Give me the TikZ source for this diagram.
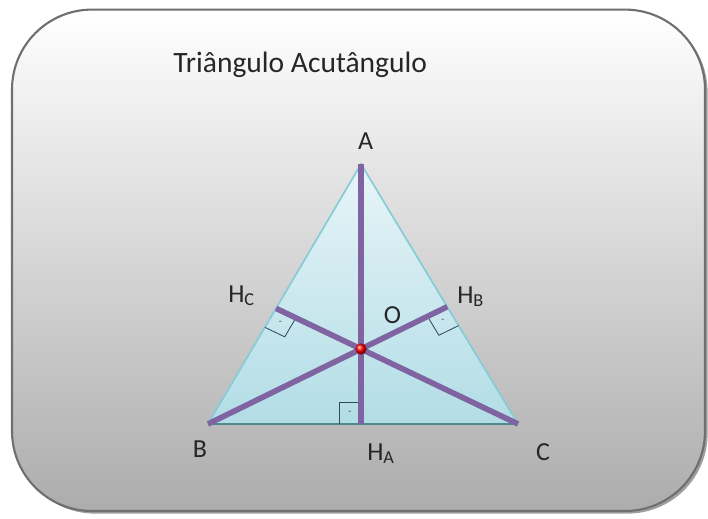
\documentclass[tikz,border=0pt]{standalone}
\usepackage{fontspec}
\setmainfont{Carlito}
\usetikzlibrary{calc}
\definecolor{altcolor}{HTML}{8064A2}
\definecolor{sidecolor}{HTML}{86CCD6}
\definecolor{basecolor}{HTML}{4F8A8E}
\definecolor{framecolor}{HTML}{6F6F6F}
\definecolor{markcolor}{HTML}{34495E}
\definecolor{triatop}{HTML}{E8F5F8}
\definecolor{triabot}{HTML}{B2DDE6}
\begin{document}
\begin{tikzpicture}[
    lbl/.style={font=\fontsize{18.5}{22}\selectfont, text=black!85, inner sep=0pt},
    alt/.style={draw=altcolor, line width=4pt},
    rmark/.style={draw=markcolor, line width=0.6pt}
]
\useasboundingbox (0,0) rectangle (17.7,12.95);
\fill[gray!75, rounded corners=2cm] (0.37,0.11) rectangle (17.69,12.65);
\shade[top color=white, bottom color=gray!65, draw=framecolor, line width=1.5pt, rounded corners=2cm] (0.3,0.175) rectangle (17.625,12.71);
\node[lbl, font=\fontsize{21}{25}\selectfont, anchor=base west] (titulo) at (4.325,11.125) {Triângulo Acutângulo};
\coordinate (A) at (9.025,8.85);
\coordinate (B) at (5.2,2.35);
\coordinate (C) at (12.95,2.35);
\coordinate (O) at (9.025,4.225);
\coordinate (HA) at (9.025,2.35);
\coordinate (HB) at (intersection of B--O and A--C);
\coordinate (HC) at (intersection of C--O and A--B);
\shade[top color=triatop, bottom color=triabot] (A) -- (B) -- (C) -- cycle;
\draw[sidecolor, line width=1.2pt] (B) -- (A) -- (C);
\draw[basecolor, line width=1.8pt] (B) -- (C);
\foreach \p/\q/\r in {HA/B/O, HC/B/O, HB/C/O}{
    \draw[rmark] ($(\p)!0.55cm!(\q)$) -- ($(\p)!0.55cm!(\q) + (\p)!0.55cm!(\r) - (\p)$) -- ($(\p)!0.55cm!(\r)$);
    \node[font=\scriptsize, text=markcolor, inner sep=0pt] (t\p) at ($(\p)!0.28cm!(\q) + (\p)!0.28cm!(\r) - (\p)$) {-};
}
\draw[alt] (A) -- (HA);
\draw[alt] (B) -- (HB);
\draw[alt] (C) -- (HC);
\shade[ball color=red] (O) circle (0.14);
\node[lbl, anchor=base] (lA) at (9.14,9.225) {A};
\node[lbl, anchor=base] (lB) at (5.0,1.525) {B};
\node[lbl, anchor=base] (lC) at (13.575,1.45) {C};
\node[lbl, anchor=base west] (lHA) at (9.175,1.45) {H\textsubscript{A}};
\node[lbl, anchor=base west] (lHB) at (11.425,5.375) {H\textsubscript{B}};
\node[lbl, anchor=base west] (lHC) at (5.7,5.4) {H\textsubscript{C}};
\node[lbl, anchor=base] (lO) at (9.81,4.875) {O};
\end{tikzpicture}
\end{document}
